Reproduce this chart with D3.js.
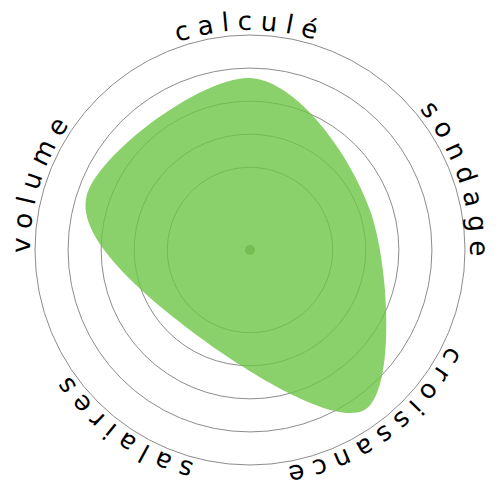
<!DOCTYPE html>
<html>
<head>
<meta charset="utf-8">
<script src="https://cdn.jsdelivr.net/npm/d3@7"></script>
<style>
  html, body { margin: 0; padding: 0; background: #fff; }
  svg { display: block; }
</style>
</head>
<body>
<svg id="chart" width="500" height="500"></svg>
<script>
// ---- data ----
const categories = ["calculé", "sondage", "croissance", "salaires", "volume"];
const values = [10.4, 7.65, 11.9, 6.05, 10.4];
const ringTicks = [5, 7, 9, 11, 13];
const maxValue = 13;

// ---- layout ----
const width = 500, height = 500;
const cx = 250, cy = 250;
const outerR = 215;
const labelR = 220;

const svg = d3.select("#chart");
const g = svg.append("g").attr("transform", `translate(${cx},${cy})`);

const r = d3.scaleLinear().domain([0, maxValue]).range([0, outerR]);
const angle = d3.scaleBand().domain(categories).range([0, 2 * Math.PI]).padding(0).align(0);
const ang = c => angle(c);

// rings
g.selectAll("circle.ring")
  .data(ringTicks)
  .join("circle")
  .attr("class", "ring")
  .attr("r", d => r(d))
  .attr("fill", "none")
  .attr("stroke", "#8c8c8c")
  .attr("stroke-width", 1);

// center dot
g.append("circle").attr("r", 5).attr("fill", "#8f9f88");

// area
const line = d3.lineRadial()
  .angle((d, i) => ang(categories[i]))
  .radius(d => r(d))
  .curve(d3.curveCardinalClosed);

g.append("path")
  .datum(values)
  .attr("d", line)
  .attr("fill", "rgb(110,198,70)")
  .attr("fill-opacity", 0.8);

// label path: circle starting at bottom, clockwise
const defs = svg.append("defs");
defs.append("path")
  .attr("id", "labelCircle")
  .attr("d", `M 0,${labelR} A ${labelR},${labelR} 0 1,1 0,${-labelR} A ${labelR},${labelR} 0 1,1 0,${labelR}`);

g.selectAll("text.label")
  .data(categories)
  .join("text")
  .attr("class", "label")
  .attr("font-family", "DejaVu Sans, sans-serif")
  .attr("font-size", 26)
  .attr("letter-spacing", 8)
  .attr("fill", "#000")
  .append("textPath")
  .attr("href", "#labelCircle")
  .attr("text-anchor", "middle")
  .attr("startOffset", d => {
    const deg = ang(d) * 180 / Math.PI;
    const frac = (((deg - 180) % 360) + 360) % 360 / 360;
    return (frac * 100) + "%";
  })
  .text(d => d);
</script>
</body>
</html>
